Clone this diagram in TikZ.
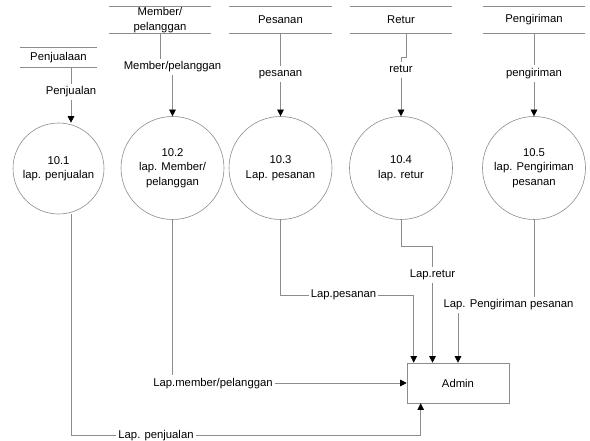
\documentclass[tikz,border=0pt]{standalone}
\usepackage{fontspec}
\setmainfont{Liberation Sans}
\usetikzlibrary{arrows.meta}

\begin{document}
\begin{tikzpicture}[x=1pt,y=-1pt,
  font=\fontsize{11.3}{14.5}\selectfont,
  line/.style={draw=black!45,line width=0.6pt},
  arr/.style={line,-{Triangle[width=6.5pt,length=6.5pt,color=black]}},
  proc/.style={circle,draw=black!45,line width=0.6pt,minimum size=103pt,inner sep=0pt,align=center},
  store/.style={minimum width=102pt,minimum height=26pt,inner sep=0pt,align=center},
  flow/.style={inner xsep=2pt,inner ysep=2.5pt,text height=8.5pt,text depth=2.5pt}]
\useasboundingbox (0,0) rectangle (590,441);

\node[store,minimum width=77pt,minimum height=19pt] (sjual) at (58.5,57.5) {Penjualaan};
\node[store] (smem) at (160,20) {Member/\\pelanggan};
\node[store] (spes) at (280.5,20) {Pesanan};
\node[store] (sret) at (401,20) {Retur};
\node[store] (skirim) at (534,20) {Pengiriman};
\draw[line] (sjual.north west) -- (sjual.north east) (sjual.south west) -- (sjual.south east);
\draw[line] (smem.north west) -- (smem.north east) (smem.south west) -- (smem.south east);
\draw[line] (spes.north west) -- (spes.north east) (spes.south west) -- (spes.south east);
\draw[line] (sret.north west) -- (sret.north east) (sret.south west) -- (sret.south east);
\draw[line] (skirim.north west) -- (skirim.north east) (skirim.south west) -- (skirim.south east);

\node[proc,minimum size=91pt] (p1) at (58.5,168.5) {10.1\\lap. penjualan};
\node[proc] (p2) at (172.5,168) {10.2\\lap. Member/\\pelanggan};
\node[proc] (p3) at (280.5,168) {10.3\\Lap. pesanan};
\node[proc] (p4) at (401,168) {10.4\\lap. retur};
\node[proc] (p5) at (534,168) {10.5\\lap. Pengiriman\\pesanan};

\node[draw=black!45,line width=0.6pt,minimum width=102pt,minimum height=40pt] (admin) at (458,383) {Admin};

\node[flow] (ljual) at (71,92) {Penjualan};
\node[flow] (lmem) at (172.5,67) {Member/pelanggan};
\node[flow] (lpes) at (280.5,74) {pesanan};
\node[flow] (lret) at (401,70) {retur};
\node[flow] (lkirim) at (534,73.5) {pengiriman};

\node[flow] (ljualb) at (156,435) {Lap. penjualan};
\node[flow] (lmemb) at (213,383) {Lap.member/pelanggan};
\node[flow] (lpesb) at (343.5,295) {Lap.pesanan};
\node[flow] (lretb) at (432.5,275) {Lap.retur};
\node[flow] (lkirimb) at (508.5,305) {Lap. Pengiriman pesanan};

\draw[line] (sjual.south -| ljual) -- (ljual.north);
\draw[arr] (ljual.south) -- (ljual.south |- p1.north);
\draw[line] (smem.south) -- (smem.south |- lmem.north);
\draw[arr] (lmem.south) -- (p2.north);
\draw[line] (spes.south) -- (lpes.north);
\draw[arr] (lpes.south) -- (p3.north);
\draw[line] ([xshift=5.5pt]sret.south) |- ([yshift=4pt]lret.north) -- (lret.north);
\draw[arr] (lret.south) -- (p4.north);
\draw[line] (skirim.south) -- (lkirim.north);
\draw[arr] (lkirim.south) -- (p5.north);

\draw[line] (p1.south -| ljual) |- (ljualb.west);
\draw[arr] (ljualb.east) -| ([xshift=14pt]admin.south west);
\draw[line] (p2.south) -- (p2.south |- lmemb.north);
\draw[arr] (lmemb.east) -- (admin.west);
\draw[line] (p3.south) |- (lpesb.west);
\draw[arr] (lpesb.east) -| ([xshift=7pt]admin.north west);
\draw[line] (p4.south) |- ([yshift=20pt]lretb.north) -- (lretb.north);
\draw[arr] (lretb.south) -- (lretb.south |- admin.north);
\draw[line] (p5.south) -- (p5.south |- lkirimb.north);
\draw[arr] (lkirimb.south -| admin.north) -- (admin.north);
\end{tikzpicture}
\end{document}
